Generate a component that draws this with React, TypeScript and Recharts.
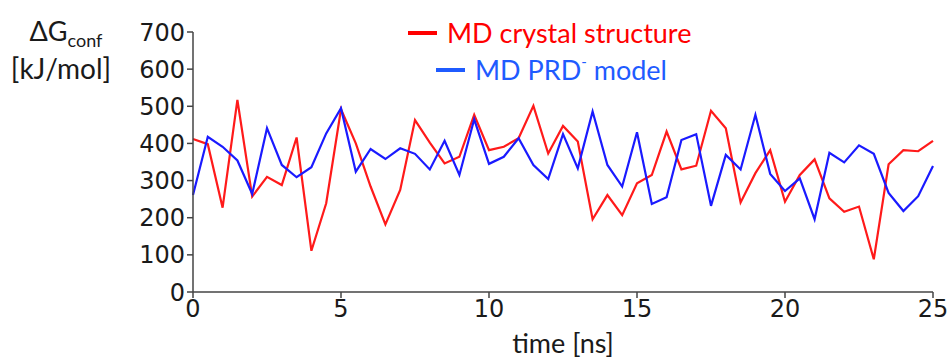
import React from 'react'
import { LineChart, Line, XAxis, YAxis } from 'recharts'

// time axis, 0.5 ns steps
const times: number[] = Array.from({ length: 51 }, (_, i) => i * 0.5)

const crystal: number[] = [
  412, 398, 227, 517, 257, 310, 288, 416, 111, 239,
  492, 400, 284, 182, 275, 463, 402, 346, 364, 477,
  382, 391, 414, 501, 373, 447, 405, 196, 261, 207,
  293, 315, 432, 330, 340, 488, 441, 241, 320, 382,
  243, 315, 357, 252, 216, 230, 88, 344, 382, 379, 407,
]

const prdModel: number[] = [
  261, 418, 391, 354, 264, 441, 342, 309, 336, 427,
  495, 324, 385, 358, 387, 372, 330, 407, 315, 465,
  345, 364, 414, 342, 304, 425, 333, 486, 342, 284,
  430, 237, 255, 409, 425, 232, 369, 330, 477, 318,
  272, 306, 196, 375, 349, 395, 372, 267, 218, 258, 339,
]

const xTicks = [0, 5, 10, 15, 20, 25]
const yTicks = [0, 100, 200, 300, 400, 500, 600, 700]

const rows = times.map((t, i) => ({ t, crystal: crystal[i], prd: prdModel[i] }))

const RED = '#ff1a1a'
const BLUE = '#1a1aff'
const tickFont = { fontFamily: 'DejaVu Sans', fontSize: 24, fill: '#1a1a1a' }

function LegendBox() {
  return (
    <div style={{ position: 'absolute', left: 408, top: 14, fontFamily: 'Lato', fontSize: 27, lineHeight: '37px' }}>
      <div style={{ display: 'flex', alignItems: 'center', color: '#ff0000' }}>
        <span style={{ width: 29, height: 4, background: '#ff0000', marginRight: 10 }} />
        MD crystal structure
      </div>
      <div style={{ display: 'flex', alignItems: 'center', color: '#1f5bff', marginLeft: 28 }}>
        <span style={{ width: 29, height: 4, background: '#1f5bff', marginRight: 10 }} />
        MD PRD<sup style={{ fontSize: 15, alignSelf: 'flex-start', lineHeight: '20px' }}>-</sup>&nbsp;model
      </div>
    </div>
  )
}

function YLabel() {
  return (
    <g style={{ fontFamily: 'Lato', fill: '#1a1a1a' }}>
      <text x={66} y={41} textAnchor="middle" fontSize={27}>
        ΔG<tspan fontSize={18} dy={6}>conf</tspan>
      </text>
      <text x={61} y={79} textAnchor="middle" fontSize={28}>[kJ/mol]</text>
    </g>
  )
}

export default function App() {
  return (
    <div style={{ position: 'absolute', left: 0, top: 0, width: 949, height: 358, background: '#fff' }}>
      <LineChart width={949} height={358} data={rows} margin={{ top: 32, right: 16, bottom: 36, left: 0 }}>
        <XAxis
          dataKey="t"
          type="number"
          domain={[0, 25]}
          ticks={xTicks}
          interval={0}
          tick={tickFont}
          tickSize={6}
          height={30}
          stroke="#444"
          strokeWidth={1.5}
          label={{ value: 'time [ns]', position: 'bottom', offset: 12, style: { fontFamily: 'Lato', fontSize: 27, fill: '#1a1a1a' } }}
        />
        <YAxis
          type="number"
          domain={[0, 700]}
          ticks={yTicks}
          interval={0}
          tick={tickFont}
          tickSize={6}
          width={193}
          stroke="#444"
          strokeWidth={1.5}
          label={{ content: () => <YLabel /> }}
        />
        <Line dataKey="crystal" stroke={RED} strokeWidth={2.2} dot={false} isAnimationActive={false} />
        <Line dataKey="prd" stroke={BLUE} strokeWidth={2.2} dot={false} isAnimationActive={false} />
      </LineChart>
      <LegendBox />
    </div>
  )
}
